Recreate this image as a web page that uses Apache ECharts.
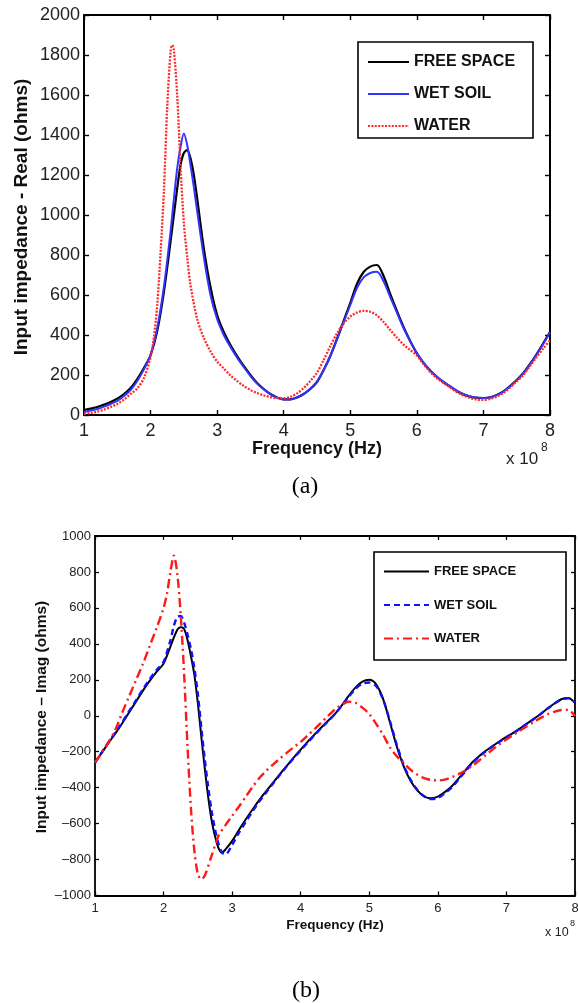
<!DOCTYPE html>
<html>
<head>
<meta charset="utf-8">
<script src="https://cdn.jsdelivr.net/npm/echarts@6/dist/echarts.min.js"></script>
<style>
  html, body { margin: 0; padding: 0; background: #fff; }
  #chart { width: 578px; height: 1003px; }
</style>
</head>
<body>
<div id="chart"></div>
<script>
// Legend entries shared by both panels
const mediumNames = ['FREE SPACE', 'WET SOIL', 'WATER'];

// (a) Real part of the input impedance: [frequency (x 1e8 Hz), ohms]
const realFreeSpace = [
  [1.0, 25], [1.1, 32], [1.2, 40], [1.3, 52], [1.4, 65], [1.5, 82], [1.6, 105], [1.7, 135],
  [1.8, 180], [1.9, 235], [2.0, 300], [2.1, 420], [2.2, 615], [2.3, 867], [2.4, 1133],
  [2.45, 1250], [2.5, 1310], [2.55, 1325], [2.6, 1283], [2.65, 1200], [2.7, 1083],
  [2.8, 833], [2.9, 640], [3.0, 500], [3.1, 415], [3.2, 350], [3.3, 295], [3.4, 245],
  [3.5, 200], [3.6, 160], [3.7, 130], [3.8, 105], [3.9, 88], [4.0, 78], [4.1, 78], [4.2, 88],
  [4.3, 105], [4.4, 130], [4.5, 165], [4.6, 225], [4.7, 295], [4.8, 380], [4.9, 470],
  [5.0, 560], [5.1, 655], [5.2, 715], [5.3, 742], [5.4, 750], [5.5, 695], [5.6, 605],
  [5.7, 520], [5.8, 440], [5.9, 370], [6.0, 308], [6.1, 260], [6.2, 222], [6.3, 190],
  [6.4, 165], [6.5, 142], [6.6, 120], [6.7, 103], [6.8, 92], [6.9, 86], [7.0, 85], [7.1, 88],
  [7.2, 100], [7.3, 118], [7.4, 145], [7.5, 175], [7.6, 210], [7.7, 255], [7.8, 305],
  [7.9, 360], [8.0, 415]
];
const realWetSoil = [
  [1.0, 15], [1.1, 22], [1.2, 30], [1.3, 42], [1.4, 55], [1.5, 70], [1.6, 95], [1.7, 125],
  [1.8, 170], [1.9, 228], [2.0, 300], [2.1, 435], [2.2, 640], [2.3, 917], [2.35, 1080],
  [2.4, 1233], [2.45, 1340], [2.5, 1408], [2.55, 1350], [2.6, 1250], [2.65, 1140],
  [2.7, 1020], [2.8, 790], [2.9, 600], [3.0, 480], [3.1, 400], [3.2, 340], [3.3, 287],
  [3.4, 240], [3.5, 195], [3.6, 157], [3.7, 128], [3.8, 104], [3.9, 87], [4.0, 78], [4.1, 78],
  [4.2, 89], [4.3, 106], [4.4, 132], [4.5, 167], [4.6, 225], [4.7, 295], [4.8, 378],
  [4.9, 465], [5.0, 550], [5.1, 635], [5.2, 688], [5.3, 710], [5.4, 716], [5.5, 668],
  [5.6, 590], [5.7, 512], [5.8, 435], [5.9, 368], [6.0, 310], [6.1, 262], [6.2, 224],
  [6.3, 192], [6.4, 166], [6.5, 144], [6.6, 122], [6.7, 105], [6.8, 93], [6.9, 87], [7.0, 85],
  [7.1, 88], [7.2, 99], [7.3, 117], [7.4, 143], [7.5, 173], [7.6, 208], [7.7, 252],
  [7.8, 302], [7.9, 356], [8.0, 412]
];
const realWater = [
  [1.0, 5], [1.1, 10], [1.2, 17], [1.3, 27], [1.4, 40], [1.5, 55], [1.6, 77], [1.7, 105],
  [1.8, 133], [1.9, 185], [2.0, 290], [2.05, 390], [2.1, 550], [2.15, 810], [2.2, 1120],
  [2.25, 1540], [2.3, 1815], [2.325, 1850], [2.35, 1825], [2.4, 1600], [2.45, 1240],
  [2.5, 960], [2.55, 790], [2.6, 650], [2.7, 480], [2.8, 385], [2.9, 318], [3.0, 267],
  [3.1, 232], [3.2, 198], [3.3, 170], [3.4, 145], [3.5, 125], [3.6, 110], [3.7, 98],
  [3.8, 90], [3.9, 84], [4.0, 84], [4.1, 90], [4.2, 108], [4.3, 135], [4.4, 170], [4.5, 212],
  [4.6, 275], [4.7, 345], [4.8, 408], [4.9, 458], [5.0, 492], [5.1, 512], [5.2, 521],
  [5.3, 516], [5.4, 498], [5.5, 465], [5.6, 425], [5.7, 387], [5.8, 352], [5.9, 325],
  [6.0, 298], [6.1, 255], [6.2, 215], [6.3, 185], [6.4, 160], [6.5, 138], [6.6, 115],
  [6.7, 98], [6.8, 85], [6.9, 77], [7.0, 75], [7.1, 80], [7.2, 92], [7.3, 110], [7.4, 137],
  [7.5, 168], [7.6, 200], [7.7, 245], [7.8, 290], [7.9, 333], [8.0, 375]
];

// (b) Imaginary part of the input impedance: [frequency (x 1e8 Hz), ohms]
const imagFreeSpace = [
  [1.0, -260], [1.1, -205], [1.2, -150], [1.3, -97], [1.4, -40], [1.5, 20], [1.6, 80],
  [1.7, 140], [1.8, 195], [1.9, 245], [2.0, 290], [2.1, 385], [2.2, 478], [2.25, 492],
  [2.3, 482], [2.35, 420], [2.4, 330], [2.45, 225], [2.5, 70], [2.55, -115], [2.6, -290],
  [2.65, -450], [2.7, -580], [2.75, -670], [2.8, -735], [2.85, -762], [2.9, -745],
  [3.0, -696], [3.1, -635], [3.2, -576], [3.3, -520], [3.4, -467], [3.5, -418], [3.6, -370],
  [3.7, -323], [3.8, -277], [3.9, -232], [4.0, -188], [4.1, -145], [4.2, -105], [4.3, -65],
  [4.4, -28], [4.5, 10], [4.6, 58], [4.7, 110], [4.8, 158], [4.9, 190], [5.0, 200],
  [5.1, 175], [5.2, 95], [5.3, -35], [5.4, -170], [5.5, -280], [5.6, -360], [5.7, -415],
  [5.8, -448], [5.9, -459], [6.0, -450], [6.1, -425], [6.2, -394], [6.3, -350], [6.4, -305],
  [6.5, -260], [6.6, -225], [6.7, -195], [6.8, -168], [6.9, -142], [7.0, -118], [7.1, -95],
  [7.2, -70], [7.3, -43], [7.4, -17], [7.5, 10], [7.6, 40], [7.7, 68], [7.8, 92], [7.9, 99],
  [8.0, 72]
];
const imagWetSoil = [
  [1.0, -260], [1.1, -203], [1.2, -146], [1.3, -92], [1.4, -35], [1.5, 27], [1.6, 87],
  [1.7, 148], [1.8, 205], [1.9, 255], [2.0, 300], [2.1, 420], [2.15, 500], [2.2, 550],
  [2.25, 555], [2.3, 518], [2.35, 450], [2.4, 370], [2.45, 262], [2.5, 120], [2.55, -65],
  [2.6, -240], [2.65, -395], [2.7, -530], [2.75, -632], [2.8, -710], [2.85, -760],
  [2.9, -772], [3.0, -718], [3.1, -650], [3.2, -590], [3.3, -530], [3.4, -475], [3.5, -425],
  [3.6, -375], [3.7, -327], [3.8, -280], [3.9, -235], [4.0, -192], [4.1, -150], [4.2, -108],
  [4.3, -68], [4.4, -30], [4.5, 10], [4.6, 56], [4.7, 105], [4.8, 150], [4.9, 178],
  [5.0, 185], [5.1, 165], [5.2, 92], [5.3, -28], [5.4, -160], [5.5, -272], [5.6, -355],
  [5.7, -412], [5.8, -448], [5.9, -463], [6.0, -458], [6.1, -432], [6.2, -400], [6.3, -355],
  [6.4, -310], [6.5, -265], [6.6, -228], [6.7, -197], [6.8, -170], [6.9, -145], [7.0, -121],
  [7.1, -97], [7.2, -72], [7.3, -45], [7.4, -18], [7.5, 10], [7.6, 40], [7.7, 67], [7.8, 90],
  [7.9, 97], [8.0, 75]
];
const imagWater = [
  [1.0, -260], [1.1, -205], [1.2, -145], [1.3, -75], [1.4, 20], [1.5, 110], [1.6, 200],
  [1.7, 290], [1.8, 390], [1.9, 490], [2.0, 600], [2.05, 680], [2.1, 800], [2.15, 891],
  [2.2, 790], [2.25, 560], [2.3, 230], [2.35, -175], [2.4, -520], [2.45, -755], [2.5, -880],
  [2.55, -910], [2.6, -890], [2.7, -780], [2.8, -669], [2.9, -610], [3.0, -557], [3.1, -505],
  [3.2, -450], [3.3, -395], [3.4, -345], [3.5, -305], [3.6, -270], [3.7, -237], [3.8, -205],
  [3.9, -175], [4.0, -145], [4.1, -110], [4.2, -75], [4.3, -38], [4.4, 0], [4.5, 35],
  [4.6, 62], [4.7, 78], [4.8, 72], [4.9, 45], [5.0, 10], [5.1, -45], [5.2, -105], [5.3, -175],
  [5.4, -225], [5.5, -262], [5.6, -300], [5.7, -328], [5.8, -347], [5.9, -357], [6.0, -360],
  [6.1, -355], [6.2, -342], [6.3, -325], [6.4, -305], [6.5, -280], [6.6, -250], [6.7, -218],
  [6.8, -187], [6.9, -158], [7.0, -132], [7.1, -107], [7.2, -82], [7.3, -58], [7.4, -34],
  [7.5, -12], [7.6, 8], [7.7, 22], [7.8, 32], [7.9, 33], [8.0, -2]
];

const SANS = '"Liberation Sans", Arial, Helvetica, sans-serif';
const SERIF = '"Liberation Serif", "Times New Roman", serif';

// MATLAB-style tick text: no thousands separator, dash for negatives
function plainNumber(v) {
  return v < 0 ? '\u2013' + Math.abs(v) : String(v);
}

function frameAxis(grid, pos, range, lw, tickLen, label) {
  const ax = {
    type: 'value', gridIndex: grid, position: pos,
    min: range[0], max: range[1], interval: range[2],
    axisLine: { show: true, onZero: false, lineStyle: { color: '#000', width: lw } },
    axisTick: { show: true, inside: true, length: tickLen, lineStyle: { color: '#000', width: lw * 0.7 } },
    splitLine: { show: false },
    axisLabel: { show: false }
  };
  if (label) {
    ax.axisLabel = Object.assign({
      show: true, color: '#222', fontFamily: SANS,
      showMinLabel: true, showMaxLabel: true,
      formatter: plainNumber
    }, label);
  }
  return ax;
}

function curve(name, data, panel, color, width, dash) {
  return {
    name: name, type: 'line', data: data,
    xAxisIndex: panel, yAxisIndex: panel,
    symbol: 'none', showSymbol: false, smooth: 0.3,
    lineStyle: { color: color, width: width, type: dash },
    itemStyle: { color: color },
    emphasis: { disabled: true },
    animation: false
  };
}

const chart = echarts.init(document.getElementById('chart'), null, { renderer: 'canvas' });

chart.setOption({
  backgroundColor: '#fff',
  animation: false,
  grid: [
    { left: 84, top: 15, width: 466, height: 400, containLabel: false, outerBoundsMode: 'none' },
    { left: 95, top: 536, width: 480, height: 359.5, containLabel: false, outerBoundsMode: 'none' }
  ],
  xAxis: [
    frameAxis(0, 'bottom', [1, 8, 1], 2, 5, { fontSize: 18, margin: 7 }),
    frameAxis(1, 'bottom', [1, 8, 1], 1.8, 4, { fontSize: 13, margin: 6 }),
    frameAxis(0, 'top', [1, 8, 1], 2, 5, null),
    frameAxis(1, 'top', [1, 8, 1], 1.8, 4, null)
  ],
  yAxis: [
    frameAxis(0, 'left', [0, 2000, 200], 2, 5, { fontSize: 18, margin: 4 }),
    frameAxis(1, 'left', [-1000, 1000, 200], 1.8, 4, { fontSize: 13, margin: 4 }),
    frameAxis(0, 'right', [0, 2000, 200], 2, 5, null),
    frameAxis(1, 'right', [-1000, 1000, 200], 1.8, 4, null)
  ],
  legend: [
    {
      data: mediumNames.map(n => 'Re ' + n),
      formatter: n => n.slice(3),
      orient: 'vertical', left: 367, top: 54, padding: 0,
      itemWidth: 41, itemHeight: 14, itemGap: 16,
      itemStyle: { opacity: 0 },
      selectedMode: false,
      textStyle: { fontFamily: SANS, fontSize: 16, fontWeight: 'bold', color: '#111' }
    },
    {
      data: mediumNames.map(n => 'Im ' + n),
      formatter: n => n.slice(3),
      orient: 'vertical', left: 383, top: 565, padding: 0,
      itemWidth: 45, itemHeight: 14, itemGap: 20.5,
      itemStyle: { opacity: 0 },
      selectedMode: false,
      textStyle: { fontFamily: SANS, fontSize: 13, fontWeight: 'bold', color: '#111' }
    }
  ],
  series: [
    curve('Re FREE SPACE', realFreeSpace, 0, '#000000', 2.2, 'solid'),
    curve('Re WET SOIL', realWetSoil, 0, '#3333ff', 2, 'solid'),
    curve('Re WATER', realWater, 0, '#ff2a2a', 2.3, [2, 1.4]),
    curve('Im FREE SPACE', imagFreeSpace, 1, '#000000', 2, 'solid'),
    curve('Im WET SOIL', imagWetSoil, 1, '#1010ff', 2.4, [6, 4]),
    curve('Im WATER', imagWater, 1, '#ff1a1a', 2.4, [9, 4, 2, 4])
  ],
  graphic: [
    // legend frames
    { type: 'rect', shape: { x: 358, y: 42, width: 175, height: 96 }, style: { fill: 'none', stroke: '#000', lineWidth: 1.6 }, z: 10 },
    { type: 'rect', shape: { x: 374, y: 552, width: 192, height: 108 }, style: { fill: 'none', stroke: '#000', lineWidth: 1.6 }, z: 10 },
    // panel (a) labels
    { type: 'text', x: 317, y: 449, style: { text: 'Frequency (Hz)', font: 'bold 18px ' + SANS, fill: '#111', align: 'center', verticalAlign: 'middle' } },
    { type: 'text', x: 22, y: 217, rotation: Math.PI / 2, style: { text: 'Input impedance - Real (ohms)', font: 'bold 19px ' + SANS, fill: '#111', align: 'center', verticalAlign: 'middle' } },
    { type: 'text', x: 506, y: 459, style: { text: 'x 10', font: '17px ' + SANS, fill: '#222', align: 'left', verticalAlign: 'middle' } },
    { type: 'text', x: 541, y: 448, style: { text: '8', font: '12px ' + SANS, fill: '#222', align: 'left', verticalAlign: 'middle' } },
    { type: 'text', x: 305, y: 487, style: { text: '(a)', font: '24px ' + SERIF, fill: '#000', align: 'center', verticalAlign: 'middle' } },
    // panel (b) labels
    { type: 'text', x: 335, y: 925, style: { text: 'Frequency (Hz)', font: 'bold 13.5px ' + SANS, fill: '#111', align: 'center', verticalAlign: 'middle' } },
    { type: 'text', x: 42, y: 717, rotation: Math.PI / 2, style: { text: 'Input impedance \u2013 Imag (ohms)', font: 'bold 15.5px ' + SANS, fill: '#111', align: 'center', verticalAlign: 'middle' } },
    { type: 'text', x: 545, y: 933, style: { text: 'x 10', font: '12.5px ' + SANS, fill: '#222', align: 'left', verticalAlign: 'middle' } },
    { type: 'text', x: 570, y: 924, style: { text: '8', font: '9px ' + SANS, fill: '#222', align: 'left', verticalAlign: 'middle' } },
    { type: 'text', x: 306, y: 991, style: { text: '(b)', font: '24px ' + SERIF, fill: '#000', align: 'center', verticalAlign: 'middle' } }
  ]
});
</script>
</body>
</html>
